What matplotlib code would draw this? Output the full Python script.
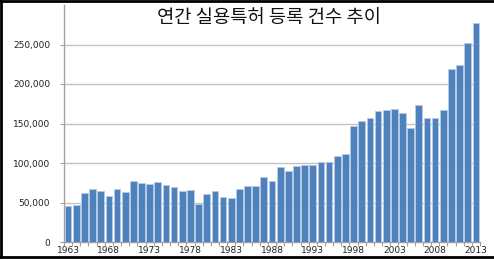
import matplotlib
matplotlib.use('Agg')
import matplotlib.pyplot as plt
from matplotlib.ticker import FuncFormatter, FixedLocator

# data
years = list(range(1963, 2014))
counts = [45400, 46600, 62200, 67600, 65100, 58400, 66800, 63900, 77700, 74400,
          73500, 75600, 71800, 69700, 64700, 65500, 48300, 61300, 65100, 57100,
          55900, 66800, 71400, 70600, 82400, 77700, 95400, 89900, 96200, 97500,
          97900, 101300, 100800, 109200, 111800, 147100, 152900, 157100, 165500, 166800,
          168500, 163900, 143700, 173100, 156700, 157100, 166800, 218900, 224000, 252500,
          277300]
title = '연간 실용특허 등록 건수 추이'
label_years = [1963, 1968, 1973, 1978, 1983, 1988, 1993, 1998, 2003, 2008, 2013]
y_ticks = [0, 50000, 100000, 150000, 200000, 250000]

fig = plt.figure(figsize=(4.94, 2.6), dpi=100)
ax = fig.add_axes([64 / 494, 18 / 260, 416 / 494, 237 / 260])

ax.bar(years, counts, width=0.82, color='#4F81BD', edgecolor='#B7CBE4', linewidth=0.6, zorder=3)

ax.set_xlim(years[0] - 0.5, years[-1] + 0.5)
ax.set_ylim(0, 300000)
ax.set_yticks(y_ticks)
ax.yaxis.set_major_formatter(FuncFormatter(lambda v, p: '{:,}'.format(int(v))))
ax.grid(axis='y', color='#C4C4C4', linewidth=1.0, zorder=0)

ax.set_xticks(label_years)
ax.xaxis.set_minor_locator(FixedLocator([y - 0.5 for y in years] + [years[-1] + 0.5]))
ax.tick_params(axis='x', which='major', length=0, pad=3, labelsize=6.5, labelcolor='#222222')
ax.tick_params(axis='x', which='minor', length=3, color='#A0A0A0', width=0.8)
ax.tick_params(axis='y', length=3, color='#A0A0A0', width=0.8, labelsize=6.5,
               labelcolor='#222222', pad=7)

for s in ['top', 'right']:
    ax.spines[s].set_visible(False)
for s in ['left', 'bottom']:
    ax.spines[s].set_color('#A0A0A0')
    ax.spines[s].set_linewidth(1.0)

fig.text(269 / 494, 1 - 18 / 260, title, ha='center', va='center', fontsize=13.5,
         fontweight='light', family=['Noto Sans CJK KR', 'DejaVu Sans'], color='#111111')

# frame around the picture
fig.add_artist(plt.Line2D([0, 1], [0.997, 0.997], color='black', linewidth=2, transform=fig.transFigure))
fig.add_artist(plt.Line2D([0, 1], [1 - 257 / 260, 1 - 257 / 260], color='black', linewidth=2, transform=fig.transFigure))
fig.add_artist(plt.Line2D([0.002, 0.002], [1 - 257 / 260, 1], color='black', linewidth=2, transform=fig.transFigure))

fig.savefig('out.png', dpi=100)
